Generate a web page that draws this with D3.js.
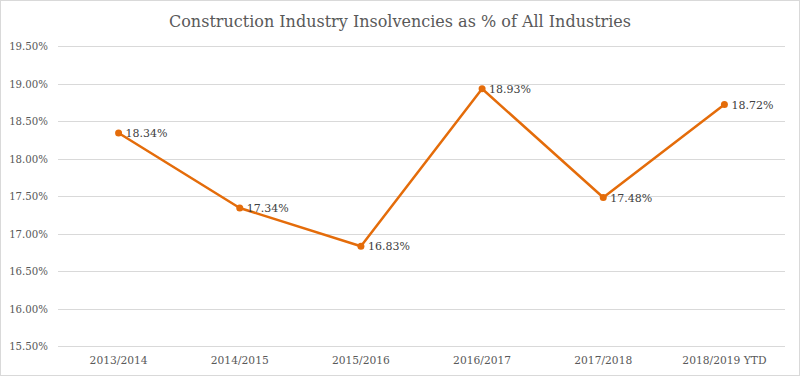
<!DOCTYPE html>
<html>
<head>
<meta charset="utf-8">
<script src="https://cdn.jsdelivr.net/npm/d3@7"></script>
<style>
  body { margin: 0; background: #fff; }
  svg { display: block; font-family: Georgia, "DejaVu Serif", serif; }
</style>
</head>
<body>
<div id="chart"></div>
<script>
// data
const years = ["2013/2014", "2014/2015", "2015/2016", "2016/2017", "2017/2018", "2018/2019 YTD"];
const values = [18.34, 17.34, 16.83, 18.93, 17.48, 18.72];
const yTicks = [15.5, 16.0, 16.5, 17.0, 17.5, 18.0, 18.5, 19.0, 19.5];

const width = 800, height = 376;
const margin = { top: 46, right: 15, bottom: 30, left: 58 };

const svg = d3.select("#chart").append("svg")
  .attr("width", width)
  .attr("height", height);

// outer border
svg.append("rect")
  .attr("x", 0.5).attr("y", 0.5)
  .attr("width", width - 1).attr("height", height - 1)
  .attr("fill", "#fff")
  .attr("stroke", "#d9d9d9");

svg.append("text")
  .attr("x", 400)
  .attr("y", 27)
  .attr("text-anchor", "middle")
  .style("font-size", "16px")
  .style("fill", "#595959")
  .text("Construction Industry Insolvencies as % of All Industries");

// scales
const x = d3.scalePoint()
  .domain(years)
  .range([margin.left, width - margin.right])
  .padding(0.5);

const y = d3.scaleLinear()
  .domain([15.5, 19.5])
  .range([height - margin.bottom, margin.top]);

// gridlines
svg.append("g")
  .selectAll("line")
  .data(yTicks)
  .join("line")
  .attr("x1", margin.left)
  .attr("x2", width - margin.right)
  .attr("y1", d => Math.round(y(d)) + 0.5)
  .attr("y2", d => Math.round(y(d)) + 0.5)
  .attr("stroke", "#d9d9d9")
  .attr("stroke-width", 1);

// y labels
svg.append("g")
  .selectAll("text")
  .data(yTicks)
  .join("text")
  .attr("x", 48)
  .attr("y", d => y(d) + 4)
  .attr("text-anchor", "end")
  .style("font-size", "10.2px")
  .style("fill", "#595959")
  .text(d => d3.format(".2f")(d) + "%");

// x labels
svg.append("g")
  .selectAll("text")
  .data(years)
  .join("text")
  .attr("x", d => x(d))
  .attr("y", height - margin.bottom + 18)
  .attr("text-anchor", "middle")
  .style("font-size", "10.7px")
  .style("fill", "#595959")
  .text(d => d);

const data = years.map((d, i) => ({ year: d, v: values[i] }));

const line = d3.line()
  .x(d => x(d.year))
  .y(d => y(d.v));

svg.append("path")
  .datum(data)
  .attr("d", line)
  .attr("fill", "none")
  .attr("stroke", "#e46c0a")
  .attr("stroke-width", 2.5)
  .attr("stroke-linejoin", "round");

svg.append("g")
  .selectAll("circle")
  .data(data)
  .join("circle")
  .attr("cx", d => x(d.year))
  .attr("cy", d => y(d.v))
  .attr("r", 3.5)
  .attr("fill", "#e46c0a");

// data labels
svg.append("g")
  .selectAll("text")
  .data(data)
  .join("text")
  .attr("x", d => x(d.year) + 7)
  .attr("y", d => y(d.v) + 4)
  .style("font-size", "11px")
  .style("fill", "#404040")
  .text(d => d3.format(".2f")(d.v) + "%");
</script>
</body>
</html>
